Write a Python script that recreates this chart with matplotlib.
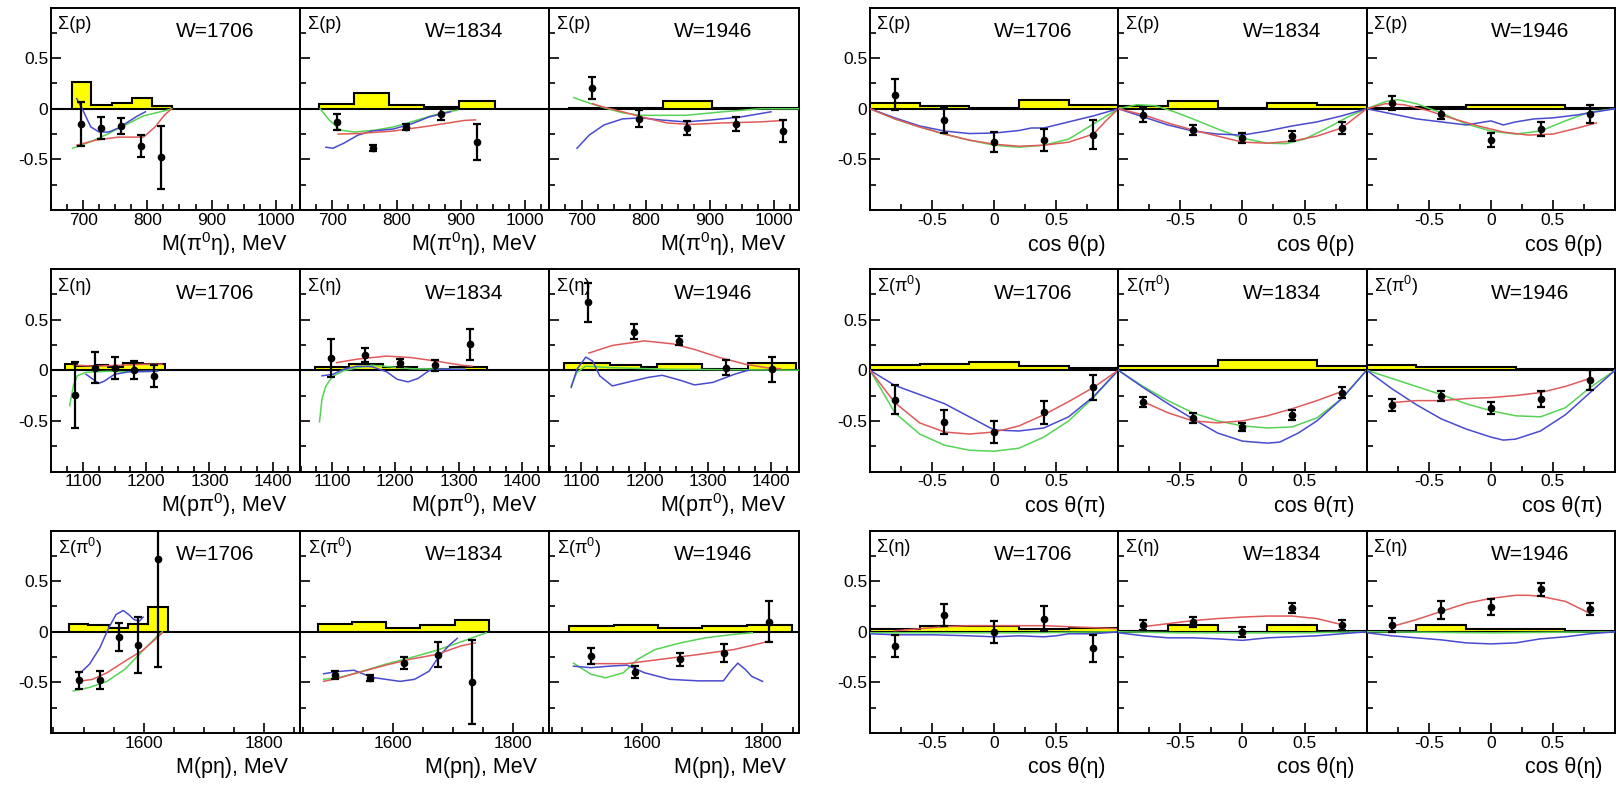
import matplotlib
matplotlib.use("Agg")
import matplotlib.pyplot as plt
from matplotlib.ticker import MultipleLocator, FixedLocator

plt.rcParams['font.family'] = ['Liberation Sans', 'DejaVu Sans']
plt.rcParams['mathtext.fontset'] = 'custom'
plt.rcParams['mathtext.rm'] = 'Liberation Sans'
plt.rcParams['mathtext.it'] = 'Liberation Sans:italic'
plt.rcParams['mathtext.default'] = 'regular'
plt.rcParams['axes.unicode_minus'] = False

energies = [1706, 1834, 1946]

# ---- left block, row 1: Sigma(p) vs M(pi0 eta)
mp_1706_edges = [682, 713, 745, 776, 808, 839]
mp_1706_hist = [0.26, 0.04, 0.06, 0.11, 0.03]
mp_1706_x = [697, 728, 759, 790, 821]
mp_1706_y = [-0.15, -0.19, -0.17, -0.37, -0.48]
mp_1706_err = [0.22, 0.11, 0.08, 0.11, 0.31]
mp_1706_red = [(690, -0.36), (720, -0.31), (755, -0.28), (794, -0.28), (812, -0.18), (827, -0.06), (838, 0.0)]
mp_1706_green = [(684, -0.39), (710, -0.33), (738, -0.25), (766, -0.16), (794, -0.07), (827, -0.02), (838, 0.0)]
mp_1706_blue = [(690, 0.10), (700, -0.02), (712, -0.18), (725, -0.23), (740, -0.23), (755, -0.19), (770, -0.13), (785, -0.07), (797, -0.03)]

mp_1834_edges = [680, 734, 789, 843, 897, 953]
mp_1834_hist = [0.05, 0.16, 0.04, 0.015, 0.08]
mp_1834_x = [708, 763, 815, 870, 926]
mp_1834_y = [-0.13, -0.385, -0.18, -0.05, -0.33]
mp_1834_err = [0.075, 0.03, 0.03, 0.06, 0.18]
mp_1834_red = [(709, -0.25), (740, -0.245), (795, -0.22), (851, -0.17), (906, -0.115), (923, -0.11)]
mp_1834_green = [(681, 0.0), (695, -0.11), (712, -0.21), (734, -0.23), (768, -0.21), (795, -0.18), (823, -0.13), (851, -0.075), (879, -0.03), (895, -0.015)]
mp_1834_blue = [(690, -0.38), (701, -0.39), (718, -0.34), (740, -0.26), (762, -0.22), (795, -0.20), (823, -0.15), (851, -0.08), (884, -0.03)]

mp_1946_edges = [680, 753, 827, 903, 978, 1053]
mp_1946_hist = [0.005, 0.005, 0.08, 0.005, 0.005]
mp_1946_x = [716, 790, 865, 940, 1014]
mp_1946_y = [0.205, -0.10, -0.19, -0.15, -0.22]
mp_1946_err = [0.11, 0.085, 0.065, 0.07, 0.11]
mp_1946_red = [(717, 0.05), (735, 0.015), (764, -0.03), (793, -0.08), (833, -0.14), (868, -0.155), (920, -0.14), (978, -0.13), (1016, -0.115)]
mp_1946_green = [(688, 0.11), (710, 0.06), (735, 0.01), (764, -0.04), (793, -0.065), (862, -0.065), (920, -0.03), (978, 0.0), (1053, 0.0)]
mp_1946_blue = [(693, -0.39), (712, -0.26), (735, -0.16), (764, -0.10), (793, -0.09), (822, -0.11), (862, -0.13), (903, -0.11), (949, -0.08), (995, -0.03)]

# ---- left block, row 2: Sigma(eta) vs M(p pi0)
me_1706_edges = [1071, 1091, 1122, 1139, 1164, 1195, 1229]
me_1706_hist = [0.06, 0.04, 0.05, 0.03, 0.07, 0.065]
me_1706_x = [1087, 1119, 1150, 1181, 1212]
me_1706_y = [-0.245, 0.025, 0.025, 0.0, -0.06]
me_1706_err = [0.33, 0.155, 0.11, 0.09, 0.11]
me_1706_red = [(1085, 0.05), (1120, 0.04), (1160, 0.05), (1200, 0.06), (1225, 0.06)]
me_1706_green = [(1079, -0.35), (1085, -0.15), (1091, -0.055), (1105, -0.02), (1139, -0.01), (1167, -0.015), (1218, -0.01)]
me_1706_blue = [(1105, -0.04), (1116, -0.09), (1125, -0.13), (1133, -0.11), (1150, -0.04), (1173, -0.015), (1218, -0.01)]

me_1834_edges = [1073, 1126, 1180, 1234, 1287, 1345]
me_1834_hist = [0.03, 0.065, 0.03, 0.015, 0.035]
me_1834_x = [1098, 1152, 1208, 1262, 1318]
me_1834_y = [0.12, 0.15, 0.075, 0.05, 0.255]
me_1834_err = [0.19, 0.065, 0.04, 0.055, 0.155]
me_1834_red = [(1107, 0.075), (1140, 0.11), (1186, 0.14), (1225, 0.125), (1265, 0.09), (1304, 0.05), (1321, 0.04)]
me_1834_green = [(1080, -0.51), (1084, -0.28), (1090, -0.155), (1101, -0.06), (1118, -0.005), (1140, 0.025), (1163, 0.05), (1180, 0.04), (1225, 0.015), (1282, 0.01), (1310, 0.01)]
me_1834_blue = [(1084, -0.055), (1101, -0.04), (1118, 0.01), (1140, 0.04), (1163, 0.035), (1186, -0.015), (1203, -0.09), (1220, -0.115), (1236, -0.08), (1253, -0.005), (1270, 0.01), (1310, 0.01)]

me_1946_edges = [1073, 1146, 1195, 1220, 1291, 1364, 1440]
me_1946_hist = [0.07, 0.05, 0.035, 0.065, 0.015, 0.07]
me_1946_x = [1110, 1183, 1255, 1329, 1402]
me_1946_y = [0.67, 0.38, 0.29, 0.025, 0.01]
me_1946_err = [0.19, 0.075, 0.045, 0.075, 0.125]
me_1946_red = [(1112, 0.17), (1149, 0.245), (1200, 0.29), (1245, 0.26), (1279, 0.205), (1319, 0.125), (1359, 0.06), (1393, 0.025), (1415, 0.015)]
me_1946_green = [(1084, -0.155), (1093, -0.02), (1107, 0.04), (1149, 0.025), (1234, 0.01), (1347, 0.005), (1449, 0.0)]
me_1946_blue = [(1084, -0.17), (1093, 0.01), (1107, 0.13), (1118, 0.09), (1129, -0.055), (1149, -0.155), (1172, -0.12), (1206, -0.07), (1228, -0.05), (1257, -0.10), (1279, -0.145), (1308, -0.12), (1342, -0.04), (1364, 0.0)]

# ---- left block, row 3: Sigma(pi0) vs M(p eta)
mpi_1706_edges = [1476, 1508, 1542, 1574, 1607, 1640]
mpi_1706_hist = [0.08, 0.065, 0.04, 0.08, 0.245]
mpi_1706_x = [1493, 1527, 1559, 1591, 1623]
mpi_1706_y = [-0.48, -0.48, -0.055, -0.13, 0.72]
mpi_1706_err = [0.085, 0.09, 0.14, 0.28, 1.07]
mpi_1706_red = [(1492, -0.49), (1515, -0.47), (1539, -0.405), (1569, -0.29), (1598, -0.185), (1622, -0.06), (1631, -0.01)]
mpi_1706_green = [(1483, -0.585), (1510, -0.55), (1539, -0.49), (1569, -0.37), (1598, -0.19), (1622, -0.045), (1631, 0.0)]
mpi_1706_blue = [(1495, -0.405), (1510, -0.32), (1527, -0.16), (1542, 0.04), (1554, 0.17), (1566, 0.21), (1575, 0.17), (1584, 0.12), (1593, 0.105), (1599, 0.145)]

mpi_1834_edges = [1476, 1532, 1588, 1645, 1703, 1759]
mpi_1834_hist = [0.08, 0.095, 0.04, 0.07, 0.12]
mpi_1834_x = [1504, 1562, 1618, 1675, 1731]
mpi_1834_y = [-0.43, -0.46, -0.31, -0.225, -0.5]
mpi_1834_err = [0.04, 0.03, 0.06, 0.125, 0.415]
mpi_1834_red = [(1485, -0.49), (1512, -0.455), (1541, -0.405), (1588, -0.33), (1630, -0.27), (1672, -0.225), (1713, -0.14), (1737, -0.11)]
mpi_1834_green = [(1485, -0.47), (1512, -0.45), (1541, -0.405), (1588, -0.32), (1630, -0.255), (1672, -0.185), (1713, -0.1), (1755, -0.01)]
mpi_1834_blue = [(1485, -0.415), (1505, -0.395), (1535, -0.38), (1565, -0.45), (1588, -0.47), (1612, -0.49), (1636, -0.47), (1660, -0.39), (1677, -0.24), (1695, -0.125), (1707, -0.065)]

mpi_1946_edges = [1479, 1553, 1626, 1700, 1775, 1849]
mpi_1946_hist = [0.055, 0.07, 0.035, 0.055, 0.07]
mpi_1946_x = [1515, 1588, 1663, 1736, 1810]
mpi_1946_y = [-0.24, -0.40, -0.27, -0.21, 0.10]
mpi_1946_err = [0.075, 0.06, 0.065, 0.085, 0.2]
mpi_1946_red = [(1515, -0.315), (1575, -0.315), (1634, -0.27), (1693, -0.225), (1753, -0.175), (1800, -0.11), (1812, -0.09)]
mpi_1946_green = [(1486, -0.31), (1515, -0.42), (1539, -0.455), (1569, -0.405), (1593, -0.27), (1622, -0.175), (1664, -0.11), (1705, -0.06), (1753, -0.025), (1783, -0.01)]
mpi_1946_blue = [(1486, -0.34), (1515, -0.355), (1545, -0.34), (1575, -0.33), (1604, -0.405), (1646, -0.47), (1693, -0.485), (1735, -0.485), (1747, -0.39), (1759, -0.31), (1771, -0.37), (1782, -0.44), (1800, -0.49)]

# ---- right block: angular distributions, same bins and points everywhere
cos_x = [-0.8, -0.4, 0.0, 0.4, 0.8]
cos_edges = [-1.0, -0.6, -0.2, 0.2, 0.6, 1.0]

cp_1706_hist = [0.06, 0.025, 0.005, 0.09, 0.035]
cp_1706_y = [0.14, -0.11, -0.33, -0.31, -0.255]
cp_1706_err = [0.15, 0.125, 0.1, 0.11, 0.14]
cp_1706_red = [(-1, 0), (-0.8, -0.1), (-0.6, -0.18), (-0.4, -0.25), (-0.2, -0.31), (0, -0.35), (0.2, -0.37), (0.4, -0.36), (0.6, -0.33), (0.8, -0.25), (0.9, -0.12), (1, 0)]
cp_1706_green = [(-1, 0), (-0.8, -0.1), (-0.6, -0.18), (-0.4, -0.25), (-0.2, -0.31), (0, -0.36), (0.2, -0.38), (0.4, -0.36), (0.6, -0.3), (0.8, -0.15), (1, 0)]
cp_1706_blue = [(-1, 0), (-0.8, -0.09), (-0.6, -0.17), (-0.4, -0.22), (-0.2, -0.245), (0, -0.24), (0.2, -0.215), (0.3, -0.19), (0.4, -0.19), (0.5, -0.16), (0.6, -0.13), (0.8, -0.07), (1, 0)]

cp_1834_hist = [0.03, 0.08, 0.005, 0.06, 0.035]
cp_1834_y = [-0.065, -0.21, -0.29, -0.27, -0.19]
cp_1834_err = [0.07, 0.05, 0.05, 0.05, 0.06]
cp_1834_red = [(-1, 0), (-0.8, -0.06), (-0.6, -0.14), (-0.4, -0.21), (-0.2, -0.27), (0, -0.33), (0.2, -0.34), (0.4, -0.32), (0.6, -0.27), (0.8, -0.19), (1, 0)]
cp_1834_green = [(-1, 0), (-0.85, 0.04), (-0.7, 0.03), (-0.55, -0.03), (-0.4, -0.1), (-0.2, -0.2), (0, -0.29), (0.2, -0.34), (0.35, -0.345), (0.5, -0.3), (0.7, -0.18), (0.85, -0.08), (1, 0)]
cp_1834_blue = [(-1, 0), (-0.8, -0.08), (-0.6, -0.16), (-0.4, -0.22), (-0.2, -0.25), (0, -0.26), (0.2, -0.22), (0.4, -0.17), (0.6, -0.13), (0.8, -0.07), (1, 0)]

cp_1946_hist = [0.005, 0.015, 0.035, 0.035, 0.005]
cp_1946_y = [0.06, -0.055, -0.31, -0.2, -0.055]
cp_1946_err = [0.07, 0.05, 0.07, 0.07, 0.09]
cp_1946_red = [(-1, 0), (-0.85, 0.05), (-0.7, 0.04), (-0.5, -0.02), (-0.3, -0.1), (-0.1, -0.17), (0.1, -0.23), (0.3, -0.26), (0.5, -0.25), (0.7, -0.19), (0.85, -0.14)]
cp_1946_green = [(-1, 0), (-0.85, 0.07), (-0.75, 0.09), (-0.6, 0.05), (-0.4, -0.04), (-0.2, -0.15), (0, -0.22), (0.2, -0.25), (0.4, -0.22), (0.6, -0.12), (0.8, -0.03), (1, 0)]
cp_1946_blue = [(-1, 0), (-0.8, -0.05), (-0.6, -0.1), (-0.4, -0.13), (-0.2, -0.16), (-0.1, -0.14), (0.0, -0.12), (0.1, -0.16), (0.2, -0.13), (0.35, -0.1), (0.5, -0.09), (0.7, -0.06), (0.9, -0.02), (1, 0)]

cpi_1706_hist = [0.05, 0.065, 0.08, 0.045, 0.025]
cpi_1706_y = [-0.29, -0.51, -0.61, -0.415, -0.17]
cpi_1706_err = [0.145, 0.115, 0.11, 0.115, 0.125]
cpi_1706_red = [(-1, 0), (-0.8, -0.32), (-0.6, -0.52), (-0.4, -0.61), (-0.2, -0.63), (0, -0.61), (0.2, -0.55), (0.4, -0.44), (0.6, -0.31), (0.8, -0.17), (1, 0)]
cpi_1706_green = [(-1, 0), (-0.8, -0.42), (-0.6, -0.63), (-0.4, -0.74), (-0.2, -0.79), (0, -0.8), (0.2, -0.77), (0.4, -0.66), (0.6, -0.5), (0.8, -0.27), (1, 0)]
cpi_1706_blue = [(-1, 0), (-0.8, -0.15), (-0.6, -0.24), (-0.4, -0.33), (-0.2, -0.46), (0, -0.59), (0.2, -0.6), (0.4, -0.57), (0.6, -0.46), (0.8, -0.26), (1, 0)]

cpi_1834_hist = [0.045, 0.045, 0.1, 0.1, 0.045]
cpi_1834_y = [-0.31, -0.475, -0.56, -0.44, -0.22]
cpi_1834_err = [0.05, 0.05, 0.04, 0.05, 0.05]
cpi_1834_red = [(-0.8, -0.31), (-0.6, -0.42), (-0.4, -0.5), (-0.2, -0.52), (0, -0.5), (0.2, -0.45), (0.4, -0.38), (0.6, -0.3), (0.8, -0.21)]
cpi_1834_green = [(-1, 0), (-0.8, -0.16), (-0.6, -0.3), (-0.4, -0.42), (-0.2, -0.5), (0, -0.55), (0.2, -0.57), (0.4, -0.56), (0.6, -0.47), (0.8, -0.28), (1, 0)]
cpi_1834_blue = [(-1, 0), (-0.8, -0.17), (-0.6, -0.33), (-0.4, -0.48), (-0.2, -0.62), (0, -0.7), (0.2, -0.72), (0.3, -0.71), (0.45, -0.62), (0.6, -0.5), (0.8, -0.28), (1, 0)]

cpi_1946_hist = [0.05, 0.035, 0.035, 0.01, 0.01]
cpi_1946_y = [-0.345, -0.25, -0.375, -0.285, -0.095]
cpi_1946_err = [0.06, 0.05, 0.06, 0.08, 0.1]
cpi_1946_red = [(-0.8, -0.32), (-0.6, -0.3), (-0.4, -0.3), (-0.2, -0.28), (0, -0.27), (0.2, -0.25), (0.4, -0.22), (0.6, -0.16), (0.8, -0.08)]
cpi_1946_green = [(-1, 0), (-0.8, -0.08), (-0.6, -0.16), (-0.4, -0.24), (-0.2, -0.33), (0, -0.4), (0.2, -0.45), (0.4, -0.46), (0.6, -0.37), (0.8, -0.17), (1, 0)]
cpi_1946_blue = [(-1, 0), (-0.8, -0.18), (-0.6, -0.34), (-0.4, -0.48), (-0.2, -0.58), (0, -0.66), (0.1, -0.69), (0.2, -0.68), (0.4, -0.6), (0.6, -0.44), (0.8, -0.22), (1, 0)]

ce_1706_hist = [0.03, 0.06, 0.06, 0.03, 0.04]
ce_1706_y = [-0.14, 0.165, 0.0, 0.13, -0.165]
ce_1706_err = [0.11, 0.11, 0.11, 0.12, 0.13]
ce_1706_red = [(-0.8, 0.01), (-0.6, 0.03), (-0.4, 0.05), (-0.2, 0.06), (0, 0.06), (0.2, 0.06), (0.4, 0.06), (0.6, 0.05), (0.8, 0.04), (1, 0.03)]
ce_1706_green = [(-1, -0.01), (-0.6, -0.01), (-0.2, -0.01), (0.2, -0.01), (0.6, -0.005), (1, 0)]
ce_1706_blue = [(-1, -0.02), (-0.8, -0.03), (-0.5, -0.03), (-0.2, -0.04), (0, -0.05), (0.2, -0.04), (0.4, -0.05), (0.5, -0.04), (0.6, -0.02), (0.8, -0.02), (1, 0)]

ce_1834_hist = [0.005, 0.07, 0.0, 0.07, 0.005]
ce_1834_y = [0.065, 0.1, 0.0, 0.235, 0.065]
ce_1834_err = [0.05, 0.05, 0.05, 0.05, 0.05]
ce_1834_red = [(-0.8, 0.05), (-0.6, 0.08), (-0.4, 0.11), (-0.2, 0.13), (0, 0.145), (0.2, 0.155), (0.4, 0.155), (0.6, 0.13), (0.8, 0.07)]
ce_1834_green = [(-1, 0), (-0.5, -0.01), (0, -0.01), (0.5, -0.01), (1, 0)]
ce_1834_blue = [(-1, -0.01), (-0.8, -0.04), (-0.6, -0.06), (-0.4, -0.06), (-0.2, -0.07), (0, -0.085), (0.2, -0.06), (0.4, -0.05), (0.6, -0.04), (0.8, -0.02), (1, 0)]

ce_1946_hist = [0.005, 0.07, 0.03, 0.03, 0.005]
ce_1946_y = [0.065, 0.215, 0.245, 0.42, 0.225]
ce_1946_err = [0.07, 0.09, 0.08, 0.065, 0.06]
ce_1946_red = [(-0.8, 0.05), (-0.6, 0.12), (-0.4, 0.2), (-0.2, 0.28), (0, 0.33), (0.2, 0.36), (0.3, 0.36), (0.4, 0.35), (0.6, 0.3), (0.8, 0.18)]
ce_1946_green = [(-1, 0), (0, -0.01), (1, 0)]
ce_1946_blue = [(-1, -0.01), (-0.8, -0.04), (-0.6, -0.06), (-0.4, -0.08), (-0.2, -0.11), (0, -0.12), (0.2, -0.11), (0.4, -0.07), (0.6, -0.05), (0.8, -0.02), (1, 0)]

# row settings: (sigma label, x label, xlim, major ticks, minor step, [panels])
left_rows = [
    ('Σ(p)', 'M(π$^0$η), MeV', (650, 1038), [700, 800, 900, 1000], 25,
     [(mp_1706_edges, mp_1706_hist, mp_1706_x, mp_1706_y, mp_1706_err, mp_1706_red, mp_1706_green, mp_1706_blue),
      (mp_1834_edges, mp_1834_hist, mp_1834_x, mp_1834_y, mp_1834_err, mp_1834_red, mp_1834_green, mp_1834_blue),
      (mp_1946_edges, mp_1946_hist, mp_1946_x, mp_1946_y, mp_1946_err, mp_1946_red, mp_1946_green, mp_1946_blue)]),
    ('Σ(η)', 'M(pπ$^0$), MeV', (1049.5, 1443.5), [1100, 1200, 1300, 1400], 25,
     [(me_1706_edges, me_1706_hist, me_1706_x, me_1706_y, me_1706_err, me_1706_red, me_1706_green, me_1706_blue),
      (me_1834_edges, me_1834_hist, me_1834_x, me_1834_y, me_1834_err, me_1834_red, me_1834_green, me_1834_blue),
      (me_1946_edges, me_1946_hist, me_1946_x, me_1946_y, me_1946_err, me_1946_red, me_1946_green, me_1946_blue)]),
    ('Σ(π$^0$)', 'M(pη), MeV', (1446, 1860), [1600, 1800], 50,
     [(mpi_1706_edges, mpi_1706_hist, mpi_1706_x, mpi_1706_y, mpi_1706_err, mpi_1706_red, mpi_1706_green, mpi_1706_blue),
      (mpi_1834_edges, mpi_1834_hist, mpi_1834_x, mpi_1834_y, mpi_1834_err, mpi_1834_red, mpi_1834_green, mpi_1834_blue),
      (mpi_1946_edges, mpi_1946_hist, mpi_1946_x, mpi_1946_y, mpi_1946_err, mpi_1946_red, mpi_1946_green, mpi_1946_blue)]),
]

right_rows = [
    ('Σ(p)', 'cos θ(p)', (-1, 1), [-0.5, 0, 0.5], 0.25,
     [(cos_edges, cp_1706_hist, cos_x, cp_1706_y, cp_1706_err, cp_1706_red, cp_1706_green, cp_1706_blue),
      (cos_edges, cp_1834_hist, cos_x, cp_1834_y, cp_1834_err, cp_1834_red, cp_1834_green, cp_1834_blue),
      (cos_edges, cp_1946_hist, cos_x, cp_1946_y, cp_1946_err, cp_1946_red, cp_1946_green, cp_1946_blue)]),
    ('Σ(π$^0$)', 'cos θ(π)', (-1, 1), [-0.5, 0, 0.5], 0.25,
     [(cos_edges, cpi_1706_hist, cos_x, cpi_1706_y, cpi_1706_err, cpi_1706_red, cpi_1706_green, cpi_1706_blue),
      (cos_edges, cpi_1834_hist, cos_x, cpi_1834_y, cpi_1834_err, cpi_1834_red, cpi_1834_green, cpi_1834_blue),
      (cos_edges, cpi_1946_hist, cos_x, cpi_1946_y, cpi_1946_err, cpi_1946_red, cpi_1946_green, cpi_1946_blue)]),
    ('Σ(η)', 'cos θ(η)', (-1, 1), [-0.5, 0, 0.5], 0.25,
     [(cos_edges, ce_1706_hist, cos_x, ce_1706_y, ce_1706_err, ce_1706_red, ce_1706_green, ce_1706_blue),
      (cos_edges, ce_1834_hist, cos_x, ce_1834_y, ce_1834_err, ce_1834_red, ce_1834_green, ce_1834_blue),
      (cos_edges, ce_1946_hist, cos_x, ce_1946_y, ce_1946_err, ce_1946_red, ce_1946_green, ce_1946_blue)]),
]

FW, FH = 1616, 786
fig = plt.figure(figsize=(FW / 100, FH / 100), dpi=100)

row_tops = [7.5, 269, 530.5]
panel_h = 202.5
blocks = [(left_rows, [51, 300.2, 549.4], 249.2), (right_rows, [870, 1118.3, 1366.7], 248.3)]

for rows, lefts, pw in blocks:
    for r, (sig, xlab, xlim, majors, minor, panels) in enumerate(rows):
        for c, (edges, hist, px, py, perr, red, green, blue) in enumerate(panels):
            ax = fig.add_axes([lefts[c] / FW, 1 - (row_tops[r] + panel_h) / FH, pw / FW, panel_h / FH])
            ax.stairs(hist, edges, baseline=0, fill=True, color='#ffff00', zorder=1)
            ax.stairs(hist, edges, baseline=0, color='black', lw=1.5, zorder=2)
            ax.axhline(0, color='black', lw=1.5, zorder=2)
            for pts, col in ((green, '#55d455'), (blue, '#4a4ad0'), (red, '#e05a5a')):
                xs, ys = zip(*pts)
                ax.plot(xs, ys, color=col, lw=1.1, zorder=3)
            ax.errorbar(px, py, yerr=perr, fmt='o', color='black', ms=4.5, elinewidth=1.6,
                        capsize=3, capthick=1.6, zorder=4)
            ax.set_xlim(*xlim)
            ax.set_ylim(-1, 1)
            ax.xaxis.set_major_locator(FixedLocator(majors))
            ax.xaxis.set_minor_locator(MultipleLocator(minor))
            ax.yaxis.set_major_locator(FixedLocator([-0.5, 0, 0.5]))
            ax.yaxis.set_minor_locator(MultipleLocator(0.25))
            ax.set_xticklabels(['%g' % v for v in majors])
            if c == 0:
                ax.set_yticklabels(['-0.5', '0', '0.5'])
            else:
                ax.set_yticklabels([])
            ax.tick_params(which='both', direction='in', top=False, right=False, labelsize=12.5, pad=2)
            ax.tick_params(which='major', length=7, width=1.2)
            ax.tick_params(which='minor', length=4, width=1.2)
            for sp in ax.spines.values():
                sp.set_linewidth(1.4)
            ax.text(0.03, 0.915, sig, transform=ax.transAxes, ha='left', va='center', fontsize=13)
            ax.text(0.5, 0.88, 'W=%d' % energies[c], transform=ax.transAxes, ha='left', va='center', fontsize=15)
            ax.text(0.95, -0.2, xlab, transform=ax.transAxes, ha='right', va='baseline', fontsize=15.5)

fig.savefig('out.png', dpi=100)
